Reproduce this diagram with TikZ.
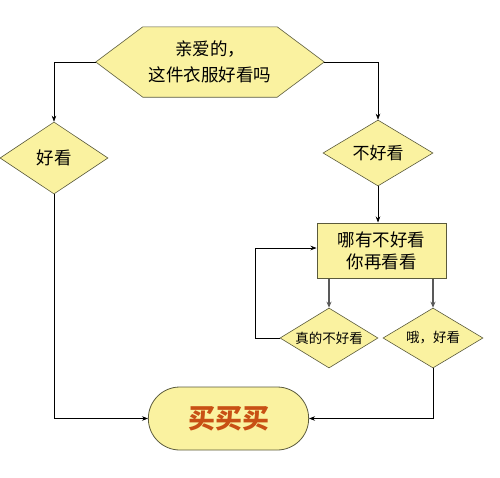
\documentclass[tikz,border=0pt]{standalone}
\usepackage{fontspec}
\newfontfamily\cjk{Noto Sans CJK SC}
\usetikzlibrary{shapes.geometric,shapes.misc,arrows.meta,calc}
\definecolor{boxfill}{RGB}{250,242,160}
\definecolor{boxline}{RGB}{90,90,60}
\definecolor{buyred}{RGB}{200,80,20}
\tikzset{
  every node/.style={font=\cjk},
  dia/.style={diamond, draw=boxline, fill=boxfill, line width=0.6pt, inner sep=0pt, aspect=1.6},
  conn/.style={line width=0.6pt, -{Stealth[length=6pt,width=4.5pt]}},
  gconn/.style={line width=1.4pt, draw=black!65, -{Stealth[length=6pt,width=5pt]}}
}
\begin{document}
\begin{tikzpicture}[x=1pt,y=-1pt]
\useasboundingbox (0,0) rectangle (500,477);
% top hexagon
\node[minimum width=228pt, minimum height=70pt, inner sep=0pt] (q) at (210,62) {};
\draw[draw=boxline, fill=boxfill, line width=0.6pt] (q.west) -- ($(q.north west)+(47,0)$) -- ($(q.north east)+(-47,0)$) -- (q.east) -- ($(q.south east)+(-47,0)$) -- ($(q.south west)+(47,0)$) -- cycle;
\node[align=center, font=\cjk\fontsize{17.5}{26}\selectfont] (qtext) at (q.center) {亲爱的，\\这件衣服好看吗};
% diamonds
\node[dia, minimum width=108pt, minimum height=72pt, font=\cjk\fontsize{17.5}{20}\selectfont] (good) at (54,158) {好看};
\node[dia, minimum width=110pt, minimum height=66pt, font=\cjk\fontsize{17}{20}\selectfont] (bad) at (378,153) {不好看};
% rectangle
\node[draw=boxline, fill=boxfill, line width=1pt, minimum width=129pt, minimum height=55pt, inner sep=1pt, align=center, font=\cjk\fontsize{17.5}{22}\selectfont] (rect) at (381.5,250.5) {哪有不好看\\你再看看};
\node[dia, minimum width=98pt, minimum height=60pt, font=\cjk\fontsize{13.5}{16}\selectfont] (really) at (329,338) {真的不好看};
\node[dia, minimum width=100pt, minimum height=60pt, font=\cjk\fontsize{13.5}{16}\selectfont] (oh) at (433,338) {哦，好看};
% buy
\node[rounded rectangle, draw=boxline, fill=boxfill, line width=0.8pt, minimum width=167pt, minimum height=63pt, text=buyred, font=\cjk\bfseries\fontsize{27}{30}\selectfont] (buy) at (228.5,418.5) {买买买};
% connectors
\draw[conn] (q.west) -| (good.north);
\draw[conn] (q.east) -| (bad.north);
\draw[conn] (bad.south) -- (rect.north -| bad.south);
\draw[gconn] (rect.south -| really.north) -- (really.north);
\draw[gconn] (rect.south -| oh.north) -- (oh.north);
\coordinate (lp) at (255,338);
\draw[conn] (really.west) -- (lp) |- (rect.west |- 0,248);
\draw[conn] (good.south) |- (buy.west);
\draw[conn] (oh.south) |- (buy.east);
\end{tikzpicture}
\end{document}
